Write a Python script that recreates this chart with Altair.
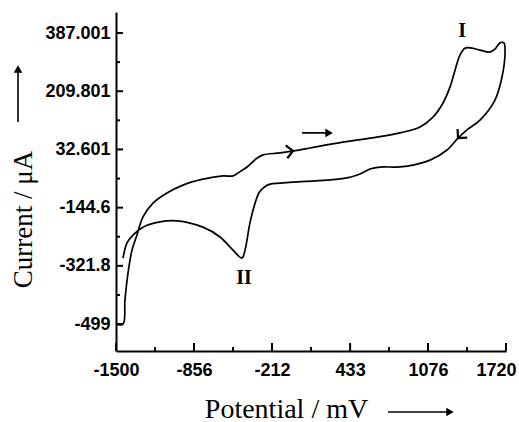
import altair as alt
import pandas as pd

# ---- data (cyclic voltammogram) ----
potential_mV = [
    -1500, -1442, -1426, -1401, -1368, -1327, -1277, -1195, -1079, -947,
    -782, -617, -534, -493, -418, -336, -286, -146, -39, 102,
    374, 655, 845, 1010, 1117, 1200, 1258, 1299, 1340, 1381,
    1439, 1505, 1588, 1629, 1670, 1703,
    1712, 1687, 1629, 1505, 1398, 1324, 1233, 1093, 952, 820,
    680, 597, 515, 407, 242, -39, -146, -229, -286, -320,
    -352, -394, -435, -460, -534, -641, -782, -996, -1137, -1277,
    -1360, -1409, -1442,
]
current_uA = [
    -499, -499, -426, -344, -274, -228, -173, -131, -100, -76,
    -58, -48, -48, -39, -21, 6, 16, 22, 28, 37,
    55, 70, 83, 101, 131, 174, 223, 274, 320, 341,
    341, 335, 329, 338, 357, 357,
    326, 253, 183, 122, 92, 67, 31, 0, -15, -21,
    -21, -27, -42, -54, -61, -67, -70, -73, -85, -100,
    -131, -191, -274, -298, -274, -234, -204, -185, -188, -204,
    -228, -252, -298,
]

x_ticks = [-1500, -856, -212, 433, 1076, 1720]
x_minor = [-1178, -534, 110.5, 754.5, 1398]
y_ticks = [387.001, 209.801, 32.601, -144.6, -321.8, -499]
y_minor = [298.401, 121.201, -56, -233.2, -410.4]

peak_labels = ["I", "II"]
peak_x = [1357, -443]
peak_y = [393, -359]

# scan-direction chevrons on the curve
chev_x = [-39, 1324]
chev_y = [28, 67]
chev_angle = [353, 132]

# free arrow inside the plot
arrow_x = [36, 250]
arrow_y = [83, 83]
arrow_head_x = [259]
arrow_head_y = [83]

W, H = 390, 339
LABEL_FONT = "Liberation Sans, Arial, sans-serif"
TITLE_FONT = "Liberation Serif, Times New Roman, serif"

xs = alt.Scale(domain=[-1500, 1720], nice=False, zero=False)
ys = alt.Scale(domain=[-581, 451], nice=False, zero=False)

curve_df = pd.DataFrame({"potential": potential_mV, "current": current_uA,
                         "step": list(range(len(potential_mV)))})

x_axis = alt.Axis(values=x_ticks, ticks=False, tickSize=0, grid=False,
                  labelFont=LABEL_FONT, labelFontSize=18, labelFontWeight="bold",
                  labelColor="black", labelPadding=10, labelExpr="toString(datum.value)",
                  labelFlush=False, labelOverlap=False,
                  labelOffset={"condition": {"test": "datum.value == 1720", "value": -10},
                               "value": 0},
                  domainColor="black", domainWidth=2,
                  title="Potential / mV", titleFont=TITLE_FONT, titleFontSize=28,
                  titleFontWeight="normal", titleColor="black",
                  titleX=170, titleY=66, titleBaseline="alphabetic", titleAlign="center")
y_axis = alt.Axis(values=y_ticks, ticks=False, tickSize=0, grid=False,
                  labelFont=LABEL_FONT, labelFontSize=18, labelFontWeight="bold",
                  labelColor="black", labelPadding=6, labelExpr="toString(datum.value)",
                  labelFlush=False, labelOverlap=False,
                  domainColor="black", domainWidth=2,
                  title="Current / μA", titleFont=TITLE_FONT, titleFontSize=27,
                  titleFontWeight="normal", titleColor="black",
                  titleX=-85, titleY=207, titleAngle=270,
                  titleBaseline="alphabetic", titleAlign="center")

curve = alt.Chart(curve_df).mark_line(
    color="black", strokeWidth=1.7, interpolate="catmull-rom"
).encode(
    x=alt.X("potential:Q", scale=xs, axis=x_axis),
    y=alt.Y("current:Q", scale=ys, axis=y_axis),
    order="step:Q",
)

# inward tick marks
xt_df = pd.DataFrame({"potential": x_ticks})
xm_df = pd.DataFrame({"potential": x_minor})
yt_df = pd.DataFrame({"current": y_ticks})
ym_df = pd.DataFrame({"current": y_minor})

x_major = alt.Chart(xt_df).mark_rule(color="black", strokeWidth=2).encode(
    x=alt.X("potential:Q", scale=xs), y=alt.value(H), y2=alt.value(H - 8))
x_min = alt.Chart(xm_df).mark_rule(color="black", strokeWidth=2).encode(
    x=alt.X("potential:Q", scale=xs), y=alt.value(H), y2=alt.value(H - 4))
y_major = alt.Chart(yt_df).mark_rule(color="black", strokeWidth=2).encode(
    y=alt.Y("current:Q", scale=ys), x=alt.value(0), x2=alt.value(7))
y_min = alt.Chart(ym_df).mark_rule(color="black", strokeWidth=2).encode(
    y=alt.Y("current:Q", scale=ys), x=alt.value(0), x2=alt.value(4))

# peak labels
lab_df = pd.DataFrame({"potential": peak_x, "current": peak_y, "label": peak_labels})
labels = alt.Chart(lab_df).mark_text(
    font=TITLE_FONT, fontSize=20, fontWeight="bold", color="black", baseline="middle"
).encode(
    x=alt.X("potential:Q", scale=xs), y=alt.Y("current:Q", scale=ys), text="label:N")

# chevrons showing scan direction
chev_df = pd.DataFrame({"potential": chev_x, "current": chev_y, "ang": chev_angle})
chevrons = alt.Chart(chev_df).mark_point(
    shape="M-1,-1L0,0L-1,1", filled=False, color="black", opacity=1,
    strokeWidth=2.2, size=170
).encode(
    x=alt.X("potential:Q", scale=xs), y=alt.Y("current:Q", scale=ys),
    angle=alt.Angle("ang:Q", scale=None))

# arrow in plot
arr_df = pd.DataFrame({"potential": [arrow_x[0]], "p2": [arrow_x[1]], "current": [arrow_y[0]]})
arrow_line = alt.Chart(arr_df).mark_rule(color="black", strokeWidth=1.7).encode(
    x=alt.X("potential:Q", scale=xs), x2="p2:Q", y=alt.Y("current:Q", scale=ys))
head_df = pd.DataFrame({"potential": arrow_head_x, "current": arrow_head_y})
arrow_head = alt.Chart(head_df).mark_point(
    shape="triangle-right", filled=True, color="black", opacity=1, size=75
).encode(x=alt.X("potential:Q", scale=xs), y=alt.Y("current:Q", scale=ys))

# arrows next to axis titles
one = pd.DataFrame({"k": [0]})
xt_arrow = alt.Chart(one).mark_rule(color="black", strokeWidth=1.6).encode(
    x=alt.value(272), x2=alt.value(332), y=alt.value(400))
xt_head = alt.Chart(one).mark_point(
    shape="triangle-right", filled=True, color="black", opacity=1, size=75
).encode(x=alt.value(334), y=alt.value(400))
yt_arrow = alt.Chart(one).mark_rule(color="black", strokeWidth=1.6).encode(
    x=alt.value(-98), y=alt.value(110), y2=alt.value(60))
yt_head = alt.Chart(one).mark_point(
    shape="triangle-up", filled=True, color="black", opacity=1, size=75
).encode(x=alt.value(-98), y=alt.value(57))

chart = alt.layer(
    curve, x_major, x_min, y_major, y_min, labels, chevrons,
    arrow_line, arrow_head, xt_arrow, xt_head, yt_arrow, yt_head,
).properties(
    width=W, height=H,
    autosize="none",
    padding={"left": 116, "top": 12, "right": 13, "bottom": 71},
    background="white",
).configure_view(stroke=None)

chart.save("out.html", embed_options={"renderer": "svg", "actions": False})
